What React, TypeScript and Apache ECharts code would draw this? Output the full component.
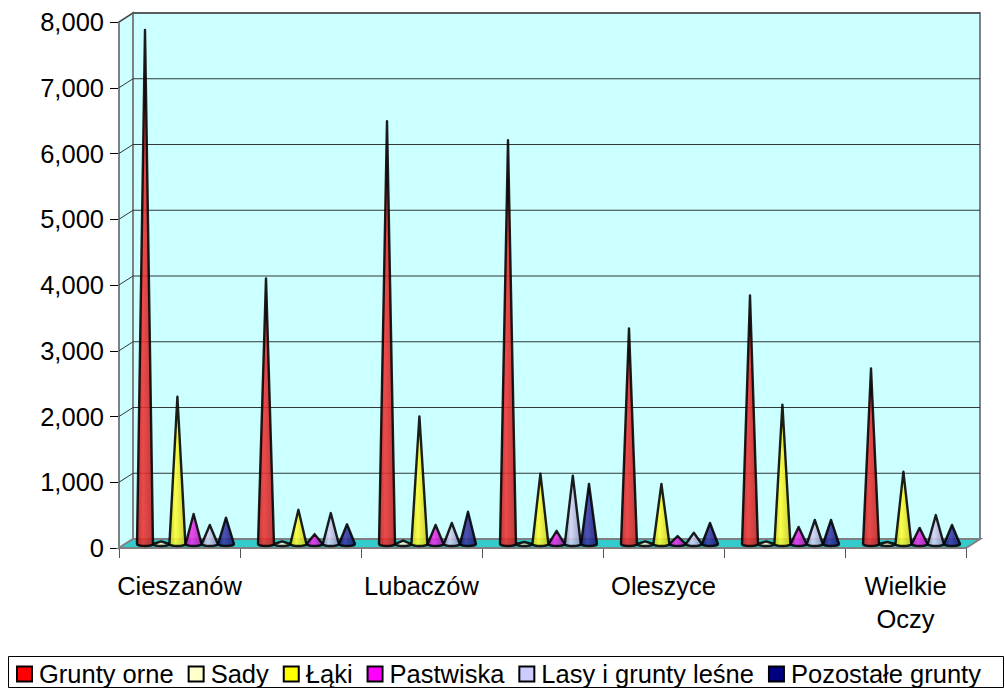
import React, { useEffect, useRef } from "react";
import * as echarts from "echarts";

const categories = ["Cieszanów", "", "Lubaczów", "", "Oleszyce", "", "Wielkie\nOczy"];
const yTicks = [0, 1000, 2000, 3000, 4000, 5000, 6000, 7000, 8000];
const gruntyOrne = [7820, 4040, 6430, 6140, 3280, 3780, 2670];
const sady = [40, 40, 50, 30, 40, 40, 30];
const laki = [2240, 520, 1940, 1070, 915, 2120, 1100];
const pastwiska = [457, 150, 290, 200, 120, 260, 245];
const lasy = [290, 470, 320, 1040, 170, 365, 440];
const pozostale = [400, 300, 490, 915, 320, 365, 290];

const seriesDefs = [
  { name: "Grunty orne", values: gruntyOrne, swatch: "#ff0000", edge: "#b82020", light: "#f03030" },
  { name: "Sady", values: sady, swatch: "#ffffcc", edge: "#d8d8b0", light: "#ffffe0" },
  { name: "Łąki", values: laki, swatch: "#ffff00", edge: "#c8c820", light: "#ffff30" },
  { name: "Pastwiska", values: pastwiska, swatch: "#ff00ff", edge: "#a020a0", light: "#f030f0" },
  { name: "Lasy i grunty leśne", values: lasy, swatch: "#ccccff", edge: "#9090b8", light: "#d4d4f4" },
  { name: "Pozostałe grunty", values: pozostale, swatch: "#000080", edge: "#18186c", light: "#3a3aa8" },
];

const DX = 14;
const DY = -9;
const SLOT = 16.2 / 121;
const CONE_DEPTH_X = 6;
const CONE_DEPTH_Y = -4;
const FONT = "Liberation Sans";

function wallItem(_p: any, api: any) {
  const [x0, y0] = api.coord([0, 0]);
  const band = api.size([1, 0])[0];
  const left = x0 - band / 2;
  const right = left + band * categories.length;
  const top = api.coord([0, 8000])[1];
  const gray = { stroke: "#808080", lineWidth: 2 };
  const wall = { fill: "#ccffff" };
  return {
    type: "group",
    children: [
      { type: "polygon", shape: { points: [[left + DX, top + DY], [right + DX, top + DY], [right + DX, y0 + DY], [left + DX, y0 + DY]] }, style: { ...wall, ...gray } },
      { type: "polygon", shape: { points: [[left, top], [left + DX, top + DY], [left + DX, y0 + DY], [left, y0]] }, style: { ...wall, ...gray } },
      { type: "polygon", shape: { points: [[left, y0], [left + DX, y0 + DY], [right + DX, y0 + DY], [right, y0]] }, style: { fill: "#33cccc", ...gray } },
    ],
  };
}

function gridItem(_p: any, api: any) {
  const v = api.value(0);
  const y = api.coord([0, v])[1];
  const x0 = api.coord([0, 0])[0];
  const band = api.size([1, 0])[0];
  const left = x0 - band / 2;
  const right = left + band * categories.length;
  return {
    type: "polyline",
    shape: { points: [[left, y], [left + DX, y + DY], [right + DX, y + DY]] },
    style: { fill: "none", stroke: "#303838", lineWidth: 1 },
  };
}

function coneItem(index: number, edge: string, light: string) {
  return (_p: any, api: any) => {
    const cat = api.value(0);
    const val = api.value(1);
    const band = api.size([1, 0])[0];
    const cx = api.coord([cat, 0])[0] + (index - 2.5) * SLOT * band + CONE_DEPTH_X;
    const base = api.coord([cat, 0])[1] + CONE_DEPTH_Y;
    const tip = api.coord([cat, val])[1] + CONE_DEPTH_Y;
    const rx = 8;
    const ry = 2;
    const pathData = `M${cx - rx} ${base}L${cx} ${tip}L${cx + rx} ${base}A${rx} ${ry} 0 0 1 ${cx - rx} ${base}Z`;
    return {
      type: "path",
      shape: { pathData },
      style: {
        fill: new echarts.graphic.LinearGradient(0, 0, 1, 0, [
          { offset: 0, color: edge },
          { offset: 0.38, color: light },
          { offset: 1, color: edge },
        ]),
        opacity: 0.88,
        stroke: "#000",
        lineWidth: 2.4,
        lineJoin: "round",
      },
    };
  };
}

export default function App() {
  const ref = useRef<HTMLDivElement>(null);
  useEffect(() => {
    document.body.style.margin = "0";
    const chart = echarts.init(ref.current!, null, { renderer: "svg" });
    chart.setOption({
      animation: false,
      backgroundColor: "#fff",
      textStyle: { fontFamily: FONT },
      grid: { left: 119, right: 39, top: 22, bottom: 142 },
      graphic: [
        { type: "rect", shape: { x: 8.5, y: 656.5, width: 995, height: 31 }, style: { fill: "#fff", stroke: "#000", lineWidth: 1 }, z: 0 },
      ],
      legend: {
        data: seriesDefs.map((s) => ({ name: s.name, icon: "rect", itemStyle: { color: s.swatch, borderColor: "#000", borderWidth: 2 } })),
        left: 16,
        top: 661,
        padding: 0,
        itemWidth: 15,
        itemHeight: 15,
        itemGap: 14,
        selectedMode: false,
        textStyle: { fontFamily: FONT, fontSize: 25.5, color: "#000", padding: [0, 0, 0, 2] },
      },
      xAxis: {
        type: "category",
        data: categories,
        axisLine: { lineStyle: { color: "#000", width: 1.5 } },
        axisTick: { show: true, length: 10, lineStyle: { color: "#555" } },
        axisLabel: { interval: 0, color: "#000", fontFamily: FONT, fontSize: 25.5, lineHeight: 33, margin: 21 },
      },
      yAxis: {
        type: "value",
        min: 0,
        max: 8000,
        interval: 1000,
        data: yTicks,
        splitLine: { show: false },
        axisLine: { show: true, lineStyle: { color: "#000", width: 1.5 } },
        axisTick: { show: true, length: 9, lineStyle: { color: "#000" } },
        axisLabel: { color: "#000", fontFamily: FONT, fontSize: 25.5, margin: 15 },
      },
      series: [
        { type: "custom", name: "_walls", data: [[0]], renderItem: wallItem, silent: true, z: 1 },
        { type: "custom", name: "_grid", data: yTicks.slice(1).map((v) => [v]), renderItem: gridItem, silent: true, z: 2, encode: { y: 0 } },
        ...seriesDefs.map((s, i) => ({
          type: "custom",
          name: s.name,
          data: s.values.map((v, c) => [c, v]),
          renderItem: coneItem(i, s.edge, s.light),
          encode: { x: 0, y: 1 },
          itemStyle: { color: s.swatch },
          z: 3 + i,
        })),
      ],
    });
    return () => chart.dispose();
  }, []);
  return <div ref={ref} style={{ width: 1005, height: 690 }} />;
}
